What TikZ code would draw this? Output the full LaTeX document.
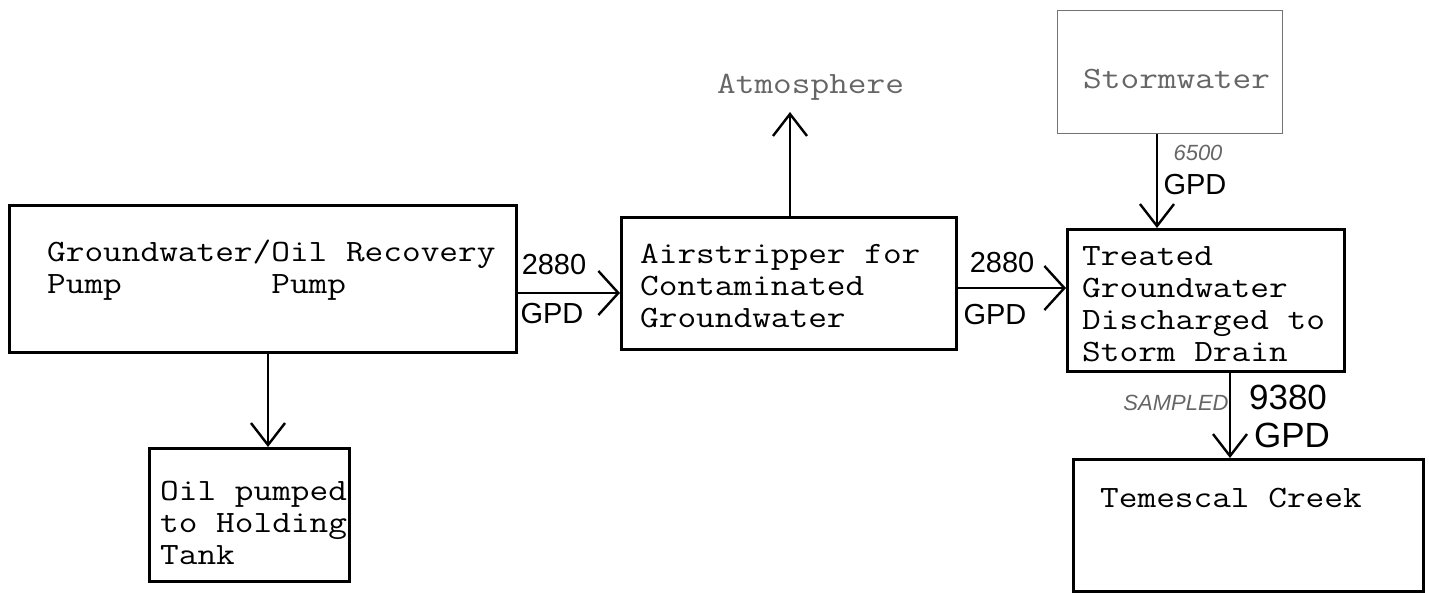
\documentclass[tikz,border=0pt]{standalone}
\usepackage{fontspec}
\setsansfont{Liberation Sans}
\newfontfamily\tw{Latin Modern Mono}[FakeStretch=1.17]
\usetikzlibrary{arrows.meta}
\tikzset{
  box/.style={draw, line width=2.6pt, rectangle, inner sep=0pt, anchor=north west},
  lightbox/.style={draw=black!55, line width=1.4pt, rectangle, inner sep=0pt, anchor=north west},
  txt/.style={anchor=base west, inner sep=0pt, font=\fontsize{31pt}{32pt}\selectfont\tw, align=left},
  lighttxt/.style={txt, text=black!60},
  hand/.style={inner sep=0pt, font=\fontsize{29pt}{29pt}\selectfont\sffamily},
  bighand/.style={inner sep=0pt, font=\fontsize{35pt}{35pt}\selectfont\sffamily},
  faint/.style={inner sep=0pt, text=black!60, font=\fontsize{22pt}{22pt}\selectfont\sffamily\itshape},
  flow/.style={line width=2.4pt, -{Straight Barb[length=22pt,width=34pt,line width=2.4pt]}},
  hflow/.style={line width=2.4pt, -{Straight Barb[length=20pt,width=44pt,line width=2.4pt]}},
}
\begin{document}
\begin{tikzpicture}[x=1pt,y=-1pt]
\useasboundingbox (0,0) rectangle (1429,592);
% boxes
\node[box, minimum width=507pt, minimum height=147pt] (gw) at (8,204) {};
\node[box, minimum width=200pt, minimum height=133pt] (oil) at (148,447) {};
\node[box, minimum width=335pt, minimum height=132pt] (air) at (620,216) {};
\node[box, minimum width=277pt, minimum height=142pt] (treat) at (1066,228) {};
\node[lightbox, minimum width=225pt, minimum height=123pt] (storm) at (1057,10) {};
\node[box, minimum width=350pt, minimum height=132pt] (creek) at (1072,458) {};
% texts (anchor = baseline of the last line)
\node[txt] (gwt) at (47,293) {Groundwater/Oil Recovery\\Pump\phantom{XXXXXXXX}Pump};
\node[txt] (oilt) at (160,564) {Oil pumped\\to Holding\\Tank};
\node[txt] (airt) at (640,327) {Airstripper for\\Contaminated\\Groundwater};
\node[txt] (treatt) at (1082,361) {Treated\\Groundwater\\Discharged to\\Storm Drain};
\node[lighttxt] (stormt) at (1083,88) {Stormwater};
\node[lighttxt] (atm) at (717,93) {Atmosphere};
\node[txt] (creekt) at (1100,507) {Temescal Creek};
% helper coordinates
\coordinate (r1) at (0,293);
\coordinate (r2) at (0,288);
\coordinate (c1) at (268,0);
\coordinate (c2) at (790,0);
\coordinate (c3) at (1157,0);
\coordinate (c4) at (1230,0);
\coordinate (atmtip) at (790,112);
% connectors
\draw[hflow] (gw.east |- r1) -- (air.west |- r1);
\draw[hflow] (air.east |- r2) -- (treat.west |- r2);
\draw[flow] (gw.south -| c1) -- (oil.north -| c1);
\draw[flow] (air.north -| c2) -- (atmtip);
\draw[flow] (storm.south -| c3) -- (treat.north -| c3);
\draw[flow] (treat.south -| c4) -- (creek.north -| c4);
% handwritten labels
\node[hand] (l1a) at (554,265) {2880};
\node[hand] (l1b) at (552,314) {GPD};
\node[hand] (l2a) at (1002,263) {2880};
\node[hand] (l2b) at (995,315) {GPD};
\node[faint] (l3a) at (1198,153) {6500};
\node[hand] (l3b) at (1195,185) {GPD};
\node[bighand] (l4a) at (1288,397) {9380};
\node[bighand] (l4b) at (1292,435) {GPD};
\node[faint] (l4c) at (1176,403) {SAMPLED};
\end{tikzpicture}
\end{document}
